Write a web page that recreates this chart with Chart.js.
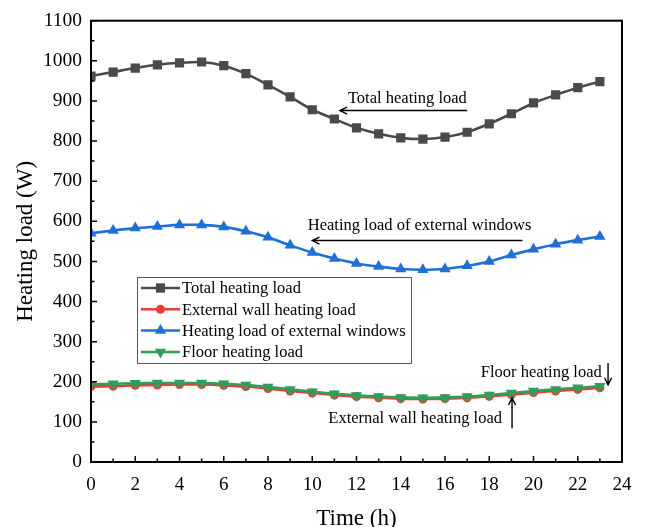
<!DOCTYPE html>
<html>
<head>
<meta charset="utf-8">
<script src="https://cdn.jsdelivr.net/npm/chart.js"></script>
<style>
  html, body { margin: 0; padding: 0; background: #fff; }
  #wrap { width: 661px; height: 527px; position: relative; }
</style>
</head>
<body>
<div id="wrap"><canvas id="loadChart"></canvas></div>
<script>
// hourly heating loads (W)
var hours = [0, 1, 2, 3, 4, 5, 6, 7, 8, 9, 10, 11, 12, 13, 14, 15, 16, 17, 18, 19, 20, 21, 22, 23];
var totalLoad  = [962, 972, 982, 990, 995, 997, 988, 968, 940, 910, 878, 855, 833, 818, 808, 805, 810, 822, 843, 868, 895, 915, 933, 948];
var wallLoad   = [188, 189, 191, 192, 193, 193, 191, 188, 183, 177, 172, 167, 163, 160, 158, 157, 158, 160, 164, 168, 173, 177, 181, 185];
var windowLoad = [570, 577, 583, 587, 591, 591, 586, 575, 560, 540, 522, 507, 495, 487, 481, 479, 481, 489, 500, 516, 530, 543, 553, 562];
var floorLoad  = [193, 195, 196, 197, 197, 197, 195, 192, 187, 181, 175, 170, 166, 163, 161, 160, 161, 163, 167, 172, 177, 181, 185, 189];

var seriesNames = ['Total heating load', 'External wall heating load', 'Heating load of external windows', 'Floor heating load'];
var xTickStep = 2, yTickStep = 100;

var serif = '"Liberation Serif", "Times New Roman", serif';

function pts(arr) {
  return arr.map(function (v, i) { return { x: hours[i], y: v }; });
}

function marker(ctx, style, x, y, r, rot, color) {
  ctx.save();
  ctx.fillStyle = color;
  ctx.translate(x, y);
  if (rot) ctx.rotate(Math.PI);
  ctx.beginPath();
  if (style === 'rect') {
    var s = r * Math.SQRT1_2;
    ctx.rect(-s, -s, 2 * s, 2 * s);
  } else if (style === 'circle') {
    ctx.arc(0, 0, r, 0, Math.PI * 2);
  } else {
    ctx.moveTo(0, -r);
    ctx.lineTo(r * 0.866, r * 0.5);
    ctx.lineTo(-r * 0.866, r * 0.5);
    ctx.closePath();
  }
  ctx.fill();
  ctx.restore();
}

function arrow(ctx, x1, y1, x2, y2) {
  // line from (x1,y1) with head at (x2,y2)
  var a = Math.atan2(y2 - y1, x2 - x1), h = 8;
  ctx.beginPath();
  ctx.moveTo(x1, y1);
  ctx.lineTo(x2, y2);
  ctx.moveTo(x2 - h * Math.cos(a - 0.45), y2 - h * Math.sin(a - 0.45));
  ctx.lineTo(x2, y2);
  ctx.lineTo(x2 - h * Math.cos(a + 0.45), y2 - h * Math.sin(a + 0.45));
  ctx.stroke();
}

var framePlugin = {
  id: 'frame',
  afterDraw: function (chart) {
    var ctx = chart.ctx, a = chart.chartArea;
    var xs = chart.scales.x, ys = chart.scales.y;
    ctx.save();
    ctx.strokeStyle = '#000';
    ctx.lineWidth = 2;
    ctx.strokeRect(a.left, a.top, a.right - a.left, a.bottom - a.top);

    // inward ticks, major and minor
    ctx.lineWidth = 1.5;
    ctx.beginPath();
    for (var h = 0; h <= 24; h += 1) {
      var px = xs.getPixelForValue(h);
      var len = (h % xTickStep === 0) ? 6 : 3.5;
      ctx.moveTo(px, a.bottom);
      ctx.lineTo(px, a.bottom - len);
    }
    for (var v = 0; v <= 1100; v += 50) {
      var py = ys.getPixelForValue(v);
      var l2 = (v % yTickStep === 0) ? 6 : 3.5;
      ctx.moveTo(a.left, py);
      ctx.lineTo(a.left + l2, py);
    }
    ctx.stroke();

    // annotations
    ctx.fillStyle = '#000';
    ctx.font = '16.5px ' + serif;
    ctx.textAlign = 'center';
    ctx.textBaseline = 'middle';
    ctx.lineWidth = 1.4;
    var X = function (v) { return xs.getPixelForValue(v); };
    var Y = function (v) { return ys.getPixelForValue(v); };

    ctx.fillText('Total heating load', X(14.3), Y(906));
    arrow(ctx, X(17.0), Y(876), X(11.25), Y(876));

    ctx.fillText('Heating load of external windows', X(14.85), Y(588));
    arrow(ctx, X(19.5), Y(552), X(10.0), Y(552));

    ctx.fillText('Floor heating load', X(20.35), Y(222));
    arrow(ctx, X(23.37), Y(247), X(23.37), Y(192));

    ctx.fillText('External wall heating load', X(14.65), Y(107));
    arrow(ctx, X(19.03), Y(84), X(19.03), Y(160));

    // legend box inside plot
    var bx = 137, by = 277, bw = 274, bh = 86;
    ctx.strokeStyle = '#555';
    ctx.lineWidth = 1;
    ctx.strokeRect(bx + 0.5, by + 0.5, bw, bh);
    ctx.textAlign = 'left';
    chart.data.datasets.forEach(function (ds, i) {
      var ry = by + 11 + i * 21.3;
      ctx.strokeStyle = ds.borderColor;
      ctx.lineWidth = 2.5;
      ctx.beginPath();
      ctx.moveTo(141, ry);
      ctx.lineTo(180, ry);
      ctx.stroke();
      marker(ctx, ds.pointStyle, 160.5, ry, ds.pointRadius, ds.pointRotation === 180, ds.pointBackgroundColor);
      ctx.fillStyle = '#000';
      ctx.fillText(ds.label, 182, ry + 1);
    });
    ctx.restore();
  }
};

var ctx = document.getElementById('loadChart').getContext('2d');
var loadChart = new Chart(ctx, {
  type: 'line',
  data: {
    datasets: [{
      label: seriesNames[0],
      data: pts(totalLoad),
      borderColor: '#4a4a4a',
      pointBackgroundColor: '#4a4a4a',
      pointStyle: 'rect',
      pointRadius: 6.5,
      order: 2
    }, {
      label: seriesNames[1],
      data: pts(wallLoad),
      borderColor: '#ef3b36',
      pointBackgroundColor: '#ef3b36',
      pointStyle: 'circle',
      pointRadius: 4.5,
      order: 1
    }, {
      label: seriesNames[2],
      data: pts(windowLoad),
      borderColor: '#1f6fd6',
      pointBackgroundColor: '#1f6fd6',
      pointStyle: 'triangle',
      pointRadius: 6.5,
      order: 2
    }, {
      label: seriesNames[3],
      data: pts(floorLoad),
      borderColor: '#2e9e5b',
      pointBackgroundColor: '#2e9e5b',
      pointStyle: 'triangle',
      pointRotation: 180,
      pointRadius: 6.5,
      order: 0
    }]
  },
  options: {
    responsive: true,
    maintainAspectRatio: false,
    animation: false,
    layout: { padding: { top: 20, right: 39, left: 0, bottom: -6 } },
    elements: {
      line: { borderWidth: 2.6, tension: 0.25 },
      point: { borderWidth: 0 }
    },
    plugins: {
      legend: { display: false },
      tooltip: { enabled: false }
    },
    scales: {
      x: {
        type: 'linear',
        min: 0,
        max: 24,
        grid: { display: false },
        border: { display: false },
        ticks: {
          stepSize: xTickStep,
          padding: 4,
          color: '#000',
          font: { family: serif, size: 19 },
          callback: function (v) { return String(v); }
        },
        title: {
          display: true,
          text: 'Time (h)',
          color: '#000',
          padding: { top: 18, bottom: 0 },
          font: { family: serif, size: 23 }
        },
        afterFit: function (s) { s.height = 71; }
      },
      y: {
        min: 0,
        max: 1100,
        grid: { display: false, drawTicks: false },
        border: { display: false },
        ticks: {
          stepSize: yTickStep,
          padding: 9,
          color: '#000',
          font: { family: serif, size: 19.5 },
          callback: function (v) { return String(v); }
        },
        title: {
          display: true,
          text: 'Heating load (W)',
          color: '#000',
          padding: { top: 12, bottom: 0 },
          font: { family: serif, size: 23 }
        },
        afterFit: function (s) { s.width = 91; }
      }
    }
  },
  plugins: [framePlugin]
});
</script>
</body>
</html>
